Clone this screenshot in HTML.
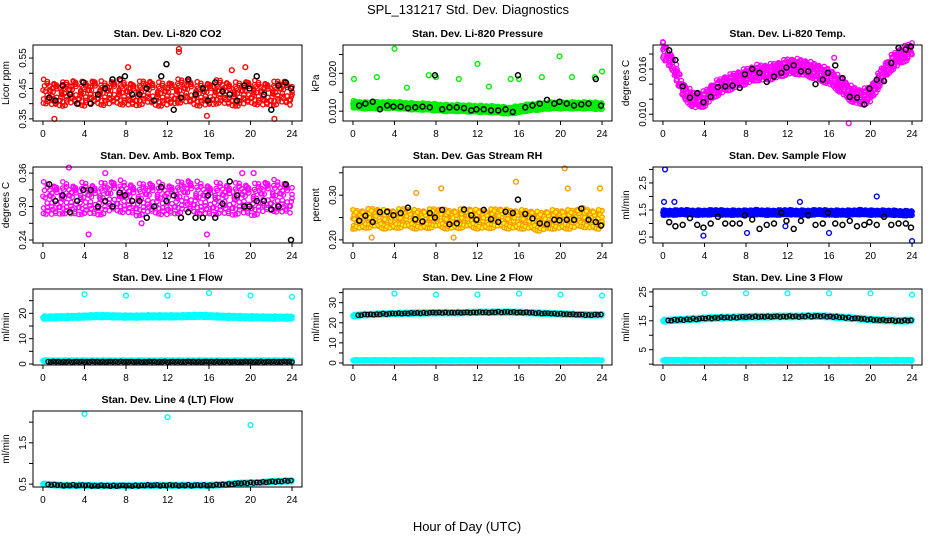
<!DOCTYPE html>
<html><head><meta charset="utf-8"><style>
body{margin:0;background:#fff}
svg{display:block}
text{font-family:"Liberation Sans",sans-serif;fill:#000}
</style></head><body>
<svg id="chart" width="936" height="540" viewBox="0 0 936 540" xmlns="http://www.w3.org/2000/svg">
<rect width="936" height="540" fill="#fff"/>
<text x="468" y="14" text-anchor="middle" font-size="13">SPL_131217  Std. Dev. Diagnostics</text>
<text x="467" y="531" text-anchor="middle" font-size="13">Hour of Day (UTC)</text>
</svg>
<script>
const hoursTicks = [0,4,8,12,16,20,24];
const jitter = [0.1,-0.6,0.8,-0.2,0.45,-0.9,0.3,-0.4,0.95,-0.75,0.05,0.6,-0.3,0.7,-0.85,0.2,-0.5,0.9,-0.1,0.35,-0.65,0.55,-0.95,0.15,0.75,-0.25,0.4,-0.7,0.85,-0.45,0.25,-0.15,0.65,-0.55,0.0,0.5,-0.8];
const blackHours = [0.6,1.2,1.9,2.6,3.3,3.9,4.6,5.3,6.0,6.7,7.4,7.9,8.6,9.3,10.0,10.7,11.4,11.9,12.6,13.3,14.0,14.7,15.4,15.9,16.6,17.3,18.0,18.7,19.4,19.9,20.6,21.3,22.0,22.7,23.4,23.9];

const co2Mid = [0.44,0.43,0.43,0.44,0.43,0.44,0.43,0.44,0.43,0.43,0.44,0.43,0.43,0.44,0.44,0.43,0.43,0.44,0.43,0.43,0.44,0.43,0.43,0.44,0.43];
const co2Black = [0.42,0.41,0.46,0.43,0.40,0.47,0.40,0.43,0.45,0.48,0.48,0.49,0.43,0.43,0.45,0.41,0.49,0.53,0.38,0.42,0.48,0.43,0.45,0.41,0.47,0.44,0.43,0.41,0.46,0.45,0.49,0.43,0.38,0.46,0.47,0.45];
const co2Out = [[13.1,0.58],[13.1,0.57],[1.1,0.35],[8.2,0.52],[19.5,0.52],[18.2,0.51],[22.3,0.35],[15.8,0.36]];

const presMid = [0.0118,0.0115,0.0115,0.0116,0.0116,0.0114,0.0112,0.0112,0.011,0.0108,0.0108,0.0107,0.0106,0.0105,0.0104,0.0101,0.0105,0.011,0.0112,0.0115,0.0115,0.0115,0.0115,0.0115,0.0113];
const presBlack = [0.0115,0.012,0.0125,0.0105,0.0115,0.0112,0.0112,0.0108,0.011,0.0112,0.011,0.0195,0.0105,0.011,0.011,0.0108,0.0102,0.0105,0.0105,0.0102,0.0102,0.0105,0.0098,0.0195,0.011,0.0115,0.012,0.013,0.012,0.0125,0.012,0.0115,0.0118,0.012,0.0185,0.0115];
const presOut = [[4,0.0265],[12,0.0225],[19.9,0.0245],[0.1,0.0185],[2.3,0.019],[7.3,0.0195],[8,0.019],[10.2,0.0185],[13.1,0.0165],[15.2,0.0185],[16,0.0185],[18.2,0.019],[21.1,0.019],[23.3,0.019],[24,0.0205],[5.2,0.0162]];

const tempMid = [0.0185,0.0165,0.013,0.0118,0.012,0.0133,0.014,0.0145,0.015,0.0155,0.0155,0.0158,0.0163,0.0163,0.016,0.0155,0.015,0.014,0.0128,0.0122,0.0126,0.015,0.0168,0.0178,0.0185];
const tempBlack = [0.0185,0.0172,0.0137,0.0122,0.0128,0.0116,0.0123,0.0136,0.0137,0.0138,0.0135,0.0153,0.016,0.0155,0.0143,0.015,0.0155,0.0162,0.0165,0.0157,0.0157,0.014,0.0146,0.0155,0.0165,0.0148,0.0123,0.0122,0.0113,0.0134,0.0146,0.0144,0.0168,0.0188,0.0186,0.019];
const tempOut = [[0,0.0195],[17.9,0.0088],[16.5,0.0175],[13.1,0.0168]];

const ambMid = [0.315,0.31,0.315,0.31,0.315,0.31,0.315,0.32,0.315,0.31,0.315,0.315,0.31,0.315,0.32,0.315,0.31,0.315,0.31,0.315,0.31,0.315,0.32,0.315,0.315];
const ambBlack = [0.34,0.31,0.32,0.29,0.31,0.33,0.33,0.30,0.31,0.30,0.325,0.32,0.31,0.31,0.28,0.30,0.335,0.31,0.32,0.28,0.29,0.28,0.28,0.32,0.28,0.305,0.345,0.32,0.30,0.30,0.31,0.31,0.295,0.30,0.34,0.24];
const ambOut = [[2.5,0.37],[6,0.36],[9.5,0.27],[4.4,0.25],[15.8,0.25],[19.2,0.36],[20.3,0.36]];

const rhMid = [0.245,0.245,0.25,0.245,0.245,0.25,0.245,0.245,0.25,0.245,0.245,0.25,0.245,0.245,0.25,0.245,0.245,0.245,0.24,0.245,0.245,0.245,0.25,0.245,0.245];
const rhBlack = [0.243,0.254,0.24,0.262,0.263,0.255,0.26,0.272,0.246,0.241,0.26,0.25,0.267,0.235,0.237,0.268,0.255,0.245,0.267,0.246,0.24,0.263,0.26,0.29,0.258,0.248,0.237,0.235,0.245,0.244,0.245,0.245,0.27,0.245,0.24,0.232];
const rhOut = [[20.4,0.36],[15.7,0.33],[20.7,0.315],[8.5,0.315],[23.8,0.315],[9.7,0.205],[1.8,0.205],[6.1,0.305]];

const sfMid = [1.4,1.4,1.42,1.4,1.4,1.42,1.4,1.4,1.4,1.42,1.4,1.4,1.42,1.4,1.4,1.42,1.4,1.4,1.4,1.42,1.4,1.4,1.4,1.38,1.38];
const sfBlack = [1.05,0.9,0.95,1.2,0.95,0.85,1.0,1.25,1.0,1.0,1.0,1.3,1.15,0.8,0.95,1.0,1.4,1.1,0.8,1.1,1.3,0.95,1.0,1.4,1.0,0.95,1.1,0.9,0.95,1.05,0.95,1.25,0.95,1.0,1.0,0.85];
const sfOut = [[0.2,3.0],[0.1,1.8],[1.1,1.8],[20.6,2.0],[3.9,0.55],[16,0.65],[8.1,0.65],[24,0.35],[13.2,1.8],[11.8,0.9]];

const l1Mid = [18.3,18.4,18.5,18.6,18.7,18.9,18.9,18.8,18.7,18.7,18.8,18.8,18.8,18.8,18.9,19,18.9,18.7,18.6,18.5,18.4,18.4,18.3,18.3,18.3];
const l1Low = [1.3,1.3,1.3,1.3,1.3,1.3,1.3,1.3,1.3,1.3,1.3,1.3,1.3,1.3,1.3,1.3,1.3,1.3,1.3,1.3,1.3,1.3,1.3,1.3,1.3];
const l1Black = [0.9,0.9,0.9,0.9,0.9,0.9,0.9,0.9,0.9,0.9,0.9,0.9,0.9,0.9,0.9,0.9,0.9,0.9,0.9,0.9,0.9,0.9,0.9,0.9,0.9];
const l1Out = [[4,27.5],[8,27],[12,27],[16,28],[20,27],[24,26.5]];

const l2Mid = [23.5,24,24.2,24.4,24.6,24.7,24.8,24.9,25,25,25,25.1,25.2,25.2,25.3,25.3,25.2,25,24.8,24.6,24.4,24.2,24,23.9,24];
const l2Low = [1.3,1.3,1.3,1.3,1.3,1.3,1.3,1.3,1.3,1.3,1.3,1.3,1.3,1.3,1.3,1.3,1.3,1.3,1.3,1.3,1.3,1.3,1.3,1.3,1.3];
const l2Out = [[4,34.5],[8,34],[12,34],[16,34.5],[20,34],[24,33.5]];

const l3Mid = [15,15.2,15.4,15.6,15.8,16,16.1,16.2,16.3,16.4,16.4,16.5,16.5,16.5,16.6,16.6,16.5,16.2,16,15.7,15.4,15.2,15.1,15,15.1];
const l3Low = [1.3,1.3,1.3,1.3,1.3,1.3,1.3,1.3,1.3,1.3,1.3,1.3,1.3,1.3,1.3,1.3,1.3,1.3,1.3,1.3,1.3,1.3,1.3,1.3,1.3];
const l3Out = [[4,24.5],[8,24.5],[12,24.5],[16,24.5],[20,24.5],[24,24]];

const l4Mid = [0.5,0.48,0.47,0.47,0.47,0.46,0.46,0.46,0.46,0.46,0.47,0.47,0.47,0.47,0.47,0.47,0.47,0.48,0.5,0.52,0.53,0.54,0.56,0.57,0.58];
const l4Out = [[4,2.2],[12,2.12],[20,1.93]];

const colLeft = [33,343,653], rowTop = [45,167,289,411], boxW = 269, boxH = 76;
const NS = "http://www.w3.org/2000/svg";
const svg = document.getElementById('chart');
function mk(tag, attrs, parent){ const e=document.createElementNS(NS,tag); for(const k in attrs) e.setAttribute(k,attrs[k]); (parent||svg).appendChild(e); return e; }
function interp(arr,h){ h=Math.max(0,Math.min(24,h)); const i=Math.min(23,Math.floor(h)); const f=h-i; return arr[i]*(1-f)+arr[i+1]*f; }

const panels = [
 {c:0,r:0,name:'co2',title:'Stan. Dev. Li-820 CO2',yl:'Licor ppm',top:0.593,bot:0.343,ticks:[0.35,0.40,0.45,0.50,0.55],labs:[0.35,0.45,0.55],dec:2,
  clouds:[{mid:co2Mid,band:0.055,col:'#ff0000',step:0.05,xj:0.35}],out:co2Out,oc:'#ff0000',black:co2Black},
 {c:1,r:0,name:'pressure',title:'Stan. Dev. Li-820 Pressure',yl:'kPa',top:0.0275,bot:0.0074,ticks:[0.010,0.015,0.020,0.025],labs:[0.010,0.020],dec:3,
  clouds:[{mid:presMid,band:0.0013,col:'#00ee00',step:0.03,xj:0.2}],out:presOut,oc:'#00ee00',black:presBlack},
 {c:2,r:0,name:'temp',title:'Stan. Dev. Li-820 Temp.',yl:'degrees C',top:0.0192,bot:0.0091,ticks:[0.010,0.012,0.014,0.016,0.018],labs:[0.010,0.016],dec:3,
  clouds:[{mid:tempMid,band:0.0015,col:'#ff00ff',step:0.035,xj:0.3}],out:tempOut,oc:'#ff00ff',black:tempBlack},
 {c:0,r:1,name:'amb-box-temp',title:'Stan. Dev. Amb. Box Temp.',yl:'degrees C',top:0.371,bot:0.2346,ticks:[0.24,0.27,0.30,0.33,0.36],labs:[0.24,0.30,0.36],dec:2,
  clouds:[{mid:ambMid,band:0.04,col:'#ff00ff',step:0.05,xj:0.35}],out:ambOut,oc:'#ff00ff',black:ambBlack},
 {c:1,r:1,name:'gas-rh',title:'Stan. Dev. Gas Stream RH',yl:'percent',top:0.363,bot:0.193,ticks:[0.20,0.25,0.30,0.35],labs:[0.20,0.30],dec:2,
  clouds:[{mid:rhMid,band:0.03,col:'#ff9900',fill:'#ffff00',step:0.04,xj:0.35}],out:rhOut,oc:'#ff9900',black:rhBlack},
 {c:2,r:1,name:'sample-flow',title:'Stan. Dev. Sample Flow',yl:'ml/min',top:3.09,bot:0.28,ticks:[0.5,1,1.5,2,2.5,3],labs:[0.5,1.5,2.5],dec:1,
  clouds:[{mid:sfMid,band:0.13,col:'#0000ff',step:0.03,xj:0.2}],out:sfOut,oc:'#0000ff',black:sfBlack},
 {c:0,r:2,name:'line1-flow',title:'Stan. Dev. Line 1 Flow',yl:'ml/min',top:29.6,bot:-0.4,ticks:[0,5,10,15,20,25],labs:[0,10,20],dec:0,
  clouds:[{mid:l1Mid,band:0.8,col:'#00ffff',step:0.03,xj:0.1},{mid:l1Low,band:0.35,col:'#00ffff',step:0.05,xj:0.1},{mid:l1Black,band:0.2,col:'#000',step:0.25,from:0.5,xj:0}],out:l1Out,oc:'#00ffff'},
 {c:1,r:2,name:'line2-flow',title:'Stan. Dev. Line 2 Flow',yl:'ml/min',top:36.8,bot:-1,ticks:[0,5,10,15,20,25,30,35],labs:[0,10,20,30],dec:0,
  clouds:[{mid:l2Mid,band:0.7,col:'#00ffff',step:0.03,xj:0.1},{mid:l2Low,band:0.4,col:'#00ffff',step:0.05,xj:0.1},{mid:l2Mid,band:0.3,col:'#000',step:0.3,from:0.5,xj:0}],out:l2Out,oc:'#00ffff'},
 {c:2,r:2,name:'line3-flow',title:'Stan. Dev. Line 3 Flow',yl:'ml/min',top:26,bot:-0.3,ticks:[0,5,10,15,20,25],labs:[5,15,25],dec:0,
  clouds:[{mid:l3Mid,band:0.6,col:'#00ffff',step:0.03,xj:0.1},{mid:l3Low,band:0.4,col:'#00ffff',step:0.05,xj:0.1},{mid:l3Mid,band:0.3,col:'#000',step:0.3,from:0.5,xj:0}],out:l3Out,oc:'#00ffff'},
 {c:0,r:3,name:'line4-flow',title:'Stan. Dev. Line 4 (LT) Flow',yl:'ml/min',top:2.27,bot:0.43,ticks:[0.5,1,1.5,2],labs:[0.5,1.5],dec:1,
  clouds:[{mid:l4Mid,band:0.03,col:'#00ffff',step:0.03,xj:0.1},{mid:l4Mid,band:0.02,col:'#000',step:0.3,from:0.5,xj:0}],out:l4Out,oc:'#00ffff'}
];

panels.forEach(p=>{
  const L=colLeft[p.c], T=rowTop[p.r];
  const xs=h=>L+(h+0.96)/25.92*boxW;
  const ys=v=>T+(p.top-v)/(p.top-p.bot)*boxH;
  const g=mk('g',{});
  
  
  const t=mk('text',{x:L+boxW/2,y:T-8,'text-anchor':'middle','font-size':'10.5','font-weight':'bold'},g);
  t.textContent=p.title;
  
  
  const yl=mk('text',{x:0,y:0,'text-anchor':'middle','font-size':'10',transform:`translate(${L-24},${T+boxH/2}) rotate(-90)`},g);
  yl.textContent=p.yl;
  
  
  const clip=mk('g',{},g);
  p.clouds.forEach(cl=>{
    let i=0;
    for(let h=(cl.from||0); h<=24.001; h+=cl.step){
      const hx=Math.max(0,Math.min(24,h+jitter[(i*7+3)%jitter.length]*cl.xj));
      const v=interp(cl.mid,hx)+jitter[i%jitter.length]*cl.band*(0.6+0.4*Math.abs(jitter[(i*5+1)%jitter.length]));
      const c=mk('circle',{cx:xs(hx),cy:ys(v),r:2.2,fill:cl.fill||'none',stroke:cl.col,'stroke-width':1.3},clip);
      
      
      i++;
    }
  });
  (p.out||[]).forEach(o=>{
    const c=mk('circle',{cx:xs(o[0]),cy:ys(o[1]),r:2.4,fill:'none',stroke:p.oc,'stroke-width':1.4},clip);
    
    
  });
  (p.black||[]).forEach((v,k)=>{
    const c=mk('circle',{cx:xs(blackHours[k]),cy:ys(v),r:2.5,fill:'none',stroke:'#000','stroke-width':1.5},clip);
    
    
  });
  const box=mk('rect',{x:L,y:T,width:boxW,height:boxH,fill:'none',stroke:'#000','stroke-width':1},g);
  
  
  hoursTicks.forEach(h=>{
    const x=xs(h);
    mk('line',{x1:x,x2:x,y1:T+boxH,y2:T+boxH+4,stroke:'#000'},g);
    const tl=mk('text',{x:x,y:T+boxH+16,'text-anchor':'middle','font-size':'10'},g);
    tl.textContent=h;
    
    
  });
  p.ticks.forEach(v=>{
    const y=ys(v);
    mk('line',{x1:L-4,x2:L,y1:y,y2:y,stroke:'#000'},g);
  });
  p.labs.forEach(v=>{
    const y=ys(v);
    const tl=mk('text',{x:0,y:0,'text-anchor':'middle','font-size':'10',transform:`translate(${L-7},${y}) rotate(-90)`},g);
    tl.textContent=v.toFixed(p.dec);
    
    
  });
});
</script>
</body></html>
